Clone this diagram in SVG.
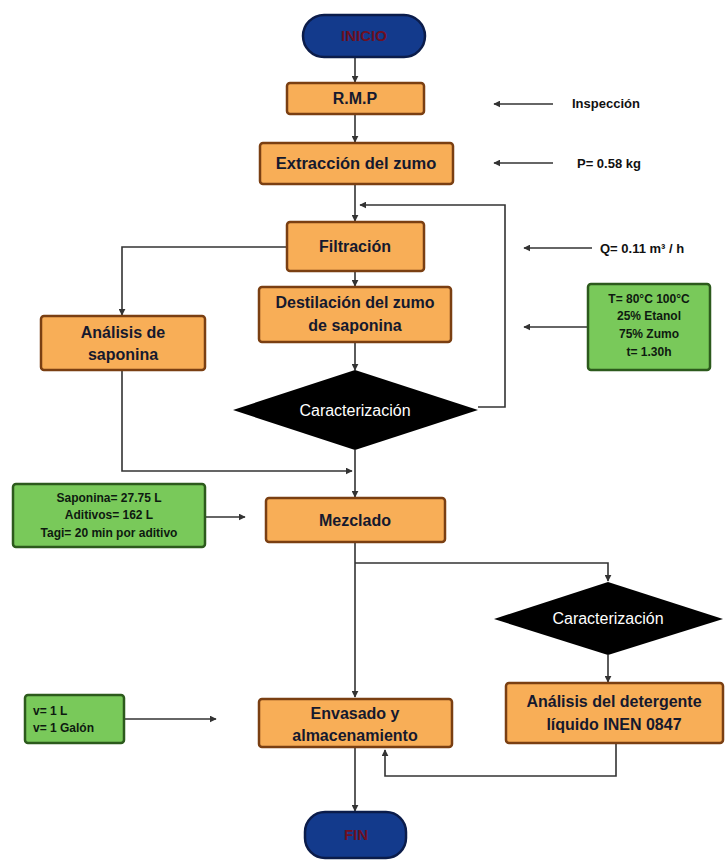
<svg xmlns="http://www.w3.org/2000/svg" width="725" height="860" viewBox="0 0 725 860">
<style>
.proc{fill:#f8ae57;stroke:#7a3f12;stroke-width:2.5}
.green{fill:#79c95a;stroke:#2c5a1c;stroke-width:2.5}
.term{fill:#133a8c;stroke:#0b1c4a;stroke-width:2.5}
.dia{fill:#000}
.t{font-family:"Liberation Sans",Arial,sans-serif;font-weight:bold;fill:#15192e;text-anchor:middle}
.tg{font-family:"Liberation Sans",Arial,sans-serif;font-weight:bold;fill:#0e1a10;font-size:12px}
.tw{font-family:"Liberation Sans",Arial,sans-serif;fill:#fff;text-anchor:middle;font-size:16px}
.tr{font-family:"Liberation Sans",Arial,sans-serif;font-weight:bold;fill:#6e1022;text-anchor:middle;font-size:15px}
.side{font-family:"Liberation Sans",Arial,sans-serif;font-weight:bold;fill:#111;font-size:13px}
.c{fill:none;stroke:#333;stroke-width:1.6}
</style>
<defs>
<marker id="ah" viewBox="0 0 10 10" refX="9" refY="5" markerWidth="7" markerHeight="7" markerUnits="userSpaceOnUse" orient="auto">
<path d="M0,0 L10,5 L0,10 z" fill="#333"/>
</marker>
</defs>
<rect width="725" height="860" fill="#fff"/>
<g id="connectors">
<path class="c" d="M355,57 V82" marker-end="url(#ah)"/>
<path class="c" d="M355,114 V142" marker-end="url(#ah)"/>
<path class="c" d="M355,184 V221" marker-end="url(#ah)"/>
<path class="c" d="M553,104 H494" marker-end="url(#ah)"/>
<path class="c" d="M553,163 H494" marker-end="url(#ah)"/>
<path class="c" d="M478,407 H505 V205 H360" marker-end="url(#ah)"/>
<path class="c" d="M592,248 H524" marker-end="url(#ah)"/>
<path class="c" d="M287,247 H122 V315" marker-end="url(#ah)"/>
<path class="c" d="M355,271 V286" marker-end="url(#ah)"/>
<path class="c" d="M355,342 V370" marker-end="url(#ah)"/>
<path class="c" d="M587,327 H524" marker-end="url(#ah)"/>
<path class="c" d="M122,370 V471 H352" marker-end="url(#ah)"/>
<path class="c" d="M355,450 V497" marker-end="url(#ah)"/>
<path class="c" d="M206,517 H245" marker-end="url(#ah)"/>
<path class="c" d="M355,542 V697" marker-end="url(#ah)"/>
<path class="c" d="M355,563 H608 V581" marker-end="url(#ah)"/>
<path class="c" d="M608,655 V682" marker-end="url(#ah)"/>
<path class="c" d="M124,719 H216" marker-end="url(#ah)"/>
<path class="c" d="M616,743 V776 H385 V750" marker-end="url(#ah)"/>
<path class="c" d="M355,747 V811" marker-end="url(#ah)"/>
</g>
<g id="inicio">
<rect class="term" x="303" y="15" width="122" height="42" rx="21"/>
<text class="tr" x="364" y="41">INICIO</text>
</g>
<g id="rmp">
<rect class="proc" x="287" y="83" width="137" height="31" rx="3"/>
<text class="t" x="355" y="104" font-size="16">R.M.P</text>
</g>
<g id="inspeccion">
<text class="side" x="572" y="108">Inspección</text>
</g>
<g id="extraccion">
<rect class="proc" x="260" y="143" width="193" height="41" rx="3"/>
<text class="t" x="356" y="169" font-size="16.5">Extracción del zumo</text>
</g>
<g id="peso">
<text class="side" x="577" y="168">P= 0.58 kg</text>
</g>
<g id="filtracion">
<rect class="proc" x="287" y="222" width="137" height="49" rx="3"/>
<text class="t" x="355" y="252" font-size="16">Filtración</text>
</g>
<g id="caudal">
<text class="side" x="600" y="253">Q= 0.11 m³ / h</text>
</g>
<g id="analisis-saponina">
<rect class="proc" x="41" y="316" width="164" height="54" rx="3"/>
<text class="t" x="123" y="338" font-size="16">Análisis de</text>
<text class="t" x="123" y="360" font-size="16">saponina</text>
</g>
<g id="destilacion">
<rect class="proc" x="259" y="287" width="192" height="55" rx="3"/>
<text class="t" x="355" y="308" font-size="16">Destilación del zumo</text>
<text class="t" x="355" y="331" font-size="16">de saponina</text>
</g>
<g id="condiciones">
<rect class="green" x="588" y="284" width="122" height="86" rx="3"/>
<text class="tg" x="649" y="303" text-anchor="middle">T= 80°C 100°C</text>
<text class="tg" x="649" y="320" text-anchor="middle">25% Etanol</text>
<text class="tg" x="649" y="338" text-anchor="middle">75% Zumo</text>
<text class="tg" x="649" y="356" text-anchor="middle">t= 1.30h</text>
</g>
<g id="caracterizacion1">
<polygon class="dia" points="355,370 478,410 355,450 233,410"/>
<text class="tw" x="355" y="416">Caracterización</text>
</g>
<g id="dosis">
<rect class="green" x="13" y="484" width="192" height="63" rx="3"/>
<text class="tg" x="109" y="502" text-anchor="middle">Saponina= 27.75 L</text>
<text class="tg" x="109" y="519" text-anchor="middle">Aditivos= 162 L</text>
<text class="tg" x="109" y="537" text-anchor="middle">Tagi= 20 min por aditivo</text>
</g>
<g id="mezclado">
<rect class="proc" x="266" y="498" width="179" height="44" rx="3"/>
<text class="t" x="355" y="526" font-size="16">Mezclado</text>
</g>
<g id="caracterizacion2">
<polygon class="dia" points="608,582 723,619 608,655 494,619"/>
<text class="tw" x="608" y="624">Caracterización</text>
</g>
<g id="volumen">
<rect class="green" x="25" y="695" width="99" height="48" rx="3"/>
<text class="tg" x="33" y="715" text-anchor="start">v= 1 L</text>
<text class="tg" x="33" y="732" text-anchor="start">v= 1 Galón</text>
</g>
<g id="envasado">
<rect class="proc" x="259" y="699" width="193" height="48" rx="3"/>
<text class="t" x="355" y="719" font-size="16">Envasado y</text>
<text class="t" x="355" y="741" font-size="16">almacenamiento</text>
</g>
<g id="analisis-detergente">
<rect class="proc" x="506" y="683" width="217" height="60" rx="3"/>
<text class="t" x="614" y="707" font-size="16">Análisis del detergente</text>
<text class="t" x="614" y="730" font-size="16">líquido INEN 0847</text>
</g>
<g id="fin">
<rect class="term" x="305" y="812" width="101" height="46" rx="20"/>
<text class="tr" x="356" y="840">FIN</text>
</g>
</svg>
